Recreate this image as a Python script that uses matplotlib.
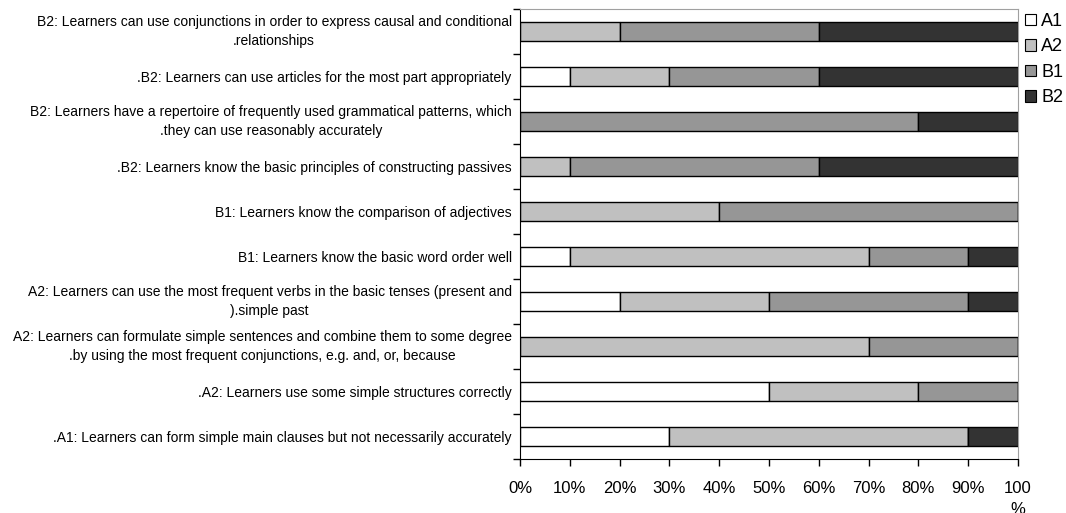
import numpy as np
import matplotlib.pyplot as plt
from matplotlib.patches import Patch

plt.rcParams['font.family'] = ['Liberation Sans', 'DejaVu Sans']

labels = [
    "B2: Learners can use conjunctions in order to express causal and conditional\n.relationships",
    ".B2: Learners can use articles for the most part appropriately",
    "B2: Learners have a repertoire of frequently used grammatical patterns, which\n.they can use reasonably accurately",
    ".B2: Learners know the basic principles of constructing passives",
    "B1: Learners know the comparison of adjectives",
    "B1: Learners know the basic word order well",
    "A2: Learners can use the most frequent verbs in the basic tenses (present and\n).simple past",
    "A2: Learners can formulate simple sentences and combine them to some degree\n.by using the most frequent conjunctions, e.g. and, or, because",
    ".A2: Learners use some simple structures correctly",
    ".A1: Learners can form simple main clauses but not necessarily accurately",
]
levels = ["A1", "A2", "B1", "B2"]
a1 = [0, 10, 0, 0, 0, 10, 20, 0, 50, 30]
a2 = [20, 20, 0, 10, 40, 60, 30, 70, 30, 60]
b1 = [40, 30, 80, 50, 60, 20, 40, 30, 20, 0]
b2 = [40, 40, 20, 40, 0, 10, 10, 0, 0, 10]
colors = ["#ffffff", "#c0c0c0", "#969696", "#333333"]
xticklabels = ["0%", "10%", "20%", "30%", "40%", "50%", "60%", "70%", "80%", "90%", "100\n%"]

fig = plt.figure(figsize=(10.66, 5.13), dpi=100)
ax = fig.add_axes([520 / 1066, 1 - 459 / 513, 498 / 1066, 450 / 513])

n = len(labels)
y = np.arange(n)
left = np.zeros(n)
for vals, c in zip([a1, a2, b1, b2], colors):
    vals = np.array(vals, dtype=float)
    ax.barh(y, vals, left=left, height=0.42, color=c, edgecolor="black", linewidth=1.0)
    left += vals

ax.set_xlim(0, 100)
ax.set_ylim(n - 0.5, -0.5)

ax.set_xticks(np.arange(0, 101, 10))
ax.set_xticklabels(xticklabels, fontsize=12, linespacing=1.45, va="top")
ax.tick_params(axis="x", length=5, width=1, pad=11, direction="out")

ax.set_yticks(y)
ax.set_yticklabels(labels, fontsize=10, linespacing=1.5)
for t in ax.get_yticklabels():
    t.set_multialignment("center")
    # two-line labels centre on their box, one-line ones on the baseline
    t.set_va("center" if "\n" in t.get_text() else "center_baseline")
ax.tick_params(axis="y", which="major", length=0, pad=6)
ax.set_yticks(np.arange(-0.5, n, 1), minor=True)
ax.tick_params(axis="y", which="minor", length=5, width=1, direction="out")

ax.spines["left"].set_color("black")
ax.spines["bottom"].set_color("black")
ax.spines["top"].set_color("#a0a0a0")
ax.spines["right"].set_color("#a0a0a0")

handles = [Patch(facecolor=c, edgecolor="black", linewidth=0.8) for c in colors]
fig.legend(handles, levels, loc="upper left", bbox_to_anchor=(1025 / 1066, 1 - 13 / 513),
           frameon=False, fontsize=13, handlelength=0.6, handleheight=0.6,
           handletextpad=0.3, labelspacing=0.47, borderpad=0.0, borderaxespad=0.0)

fig.savefig("out.png", dpi=100)
